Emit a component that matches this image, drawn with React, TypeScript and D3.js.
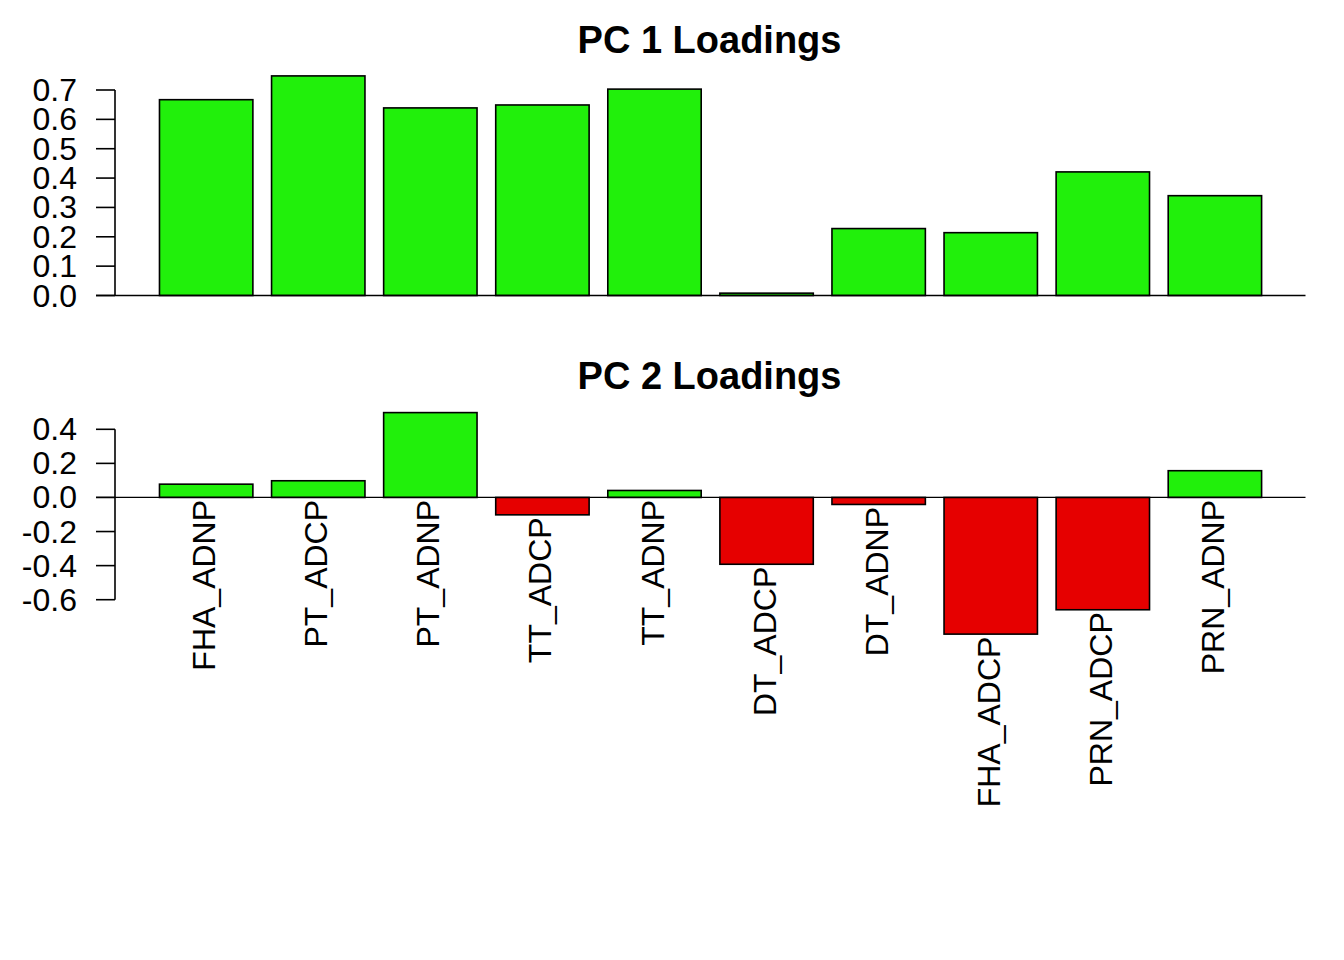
import * as d3 from 'd3';

const variables = [
  'FHA_ADNP', 'PT_ADCP', 'PT_ADNP', 'TT_ADCP', 'TT_ADNP',
  'DT_ADCP', 'DT_ADNP', 'FHA_ADCP', 'PRN_ADCP', 'PRN_ADNP',
];
const pc1 = [0.667, 0.748, 0.639, 0.649, 0.703, 0.008, 0.228, 0.214, 0.421, 0.34];
const pc2 = [0.078, 0.098, 0.498, -0.102, 0.041, -0.392, -0.041, -0.802, -0.659, 0.157];
const pc1Ticks = [0, 0.1, 0.2, 0.3, 0.4, 0.5, 0.6, 0.7];
const pc2Ticks = [-0.6, -0.4, -0.2, 0, 0.2, 0.4];

const W = 1344;
const H = 960;
const font = 'Liberation Sans, Arial, Helvetica, sans-serif';
const green = '#21F00B';
const red = '#E60000';

// bar i spans [0.2 + 1.2 i, 1.2 + 1.2 i] like R's barplot
const x = d3.scaleLinear().domain([0, 12]).range([140.8, 1261.6]);
const axisX = 115;

type PanelProps = {
  title: string;
  values: number[];
  ticks: number[];
  y: d3.ScaleLinear<number, number>;
  titleY: number;
  showLabels?: boolean;
};

function Panel({ title, values, ticks, y, titleY, showLabels }: PanelProps) {
  const y0 = y(0);
  return (
    <g>
      <text x={709.5} y={titleY} textAnchor="middle" fontFamily={font} fontWeight="bold" fontSize={38}>
        {title}
      </text>
      {values.map((v, i) => {
        const l = x(0.2 + 1.2 * i);
        const r = x(1.2 + 1.2 * i);
        const top = Math.min(y(v), y0);
        const h = Math.abs(y(v) - y0);
        return (
          <rect key={i} x={l} y={top} width={r - l} height={h}
            fill={v >= 0 ? green : red} stroke="#000" strokeWidth={1.6} />
        );
      })}
      <line x1={96} x2={1305.5} y1={y0} y2={y0} stroke="#000" strokeWidth={1.3} />
      <line x1={axisX} x2={axisX} y1={y(d3.min(ticks)!)} y2={y(d3.max(ticks)!)} stroke="#000" strokeWidth={1.6} />
      {ticks.map((t) => (
        <g key={t}>
          <line x1={96} x2={axisX} y1={y(t)} y2={y(t)} stroke="#000" strokeWidth={1.6} />
          <text x={77} y={y(t)} textAnchor="end" dominantBaseline="central" fontFamily={font} fontSize={32}>
            {d3.format('.1f')(t).replace('−', '-')}
          </text>
        </g>
      ))}
      {showLabels &&
        values.map((v, i) => {
          const cx = x(0.7 + 1.2 * i);
          const start = Math.max(y(v), y0) + 2.5;
          return (
            <text key={variables[i]} transform={`translate(${cx + 9},${start}) rotate(-90)`}
              textAnchor="end" fontFamily={font} fontSize={32}>
              {variables[i]}
            </text>
          );
        })}
    </g>
  );
}

export default function App() {
  const y1 = d3.scaleLinear().domain([0, 0.7]).range([295.5, 90]);
  const y2 = d3.scaleLinear().domain([-0.6, 0.4]).range([599.7, 429.3]);
  return (
    <svg width={W} height={H} style={{ display: 'block', position: 'absolute', left: 0, top: 0 }}>
      <rect width={W} height={H} fill="#fff" />
      <Panel title="PC 1 Loadings" values={pc1} ticks={pc1Ticks} y={y1} titleY={53} />
      <Panel title="PC 2 Loadings" values={pc2} ticks={pc2Ticks} y={y2} titleY={389} showLabels />
    </svg>
  );
}
